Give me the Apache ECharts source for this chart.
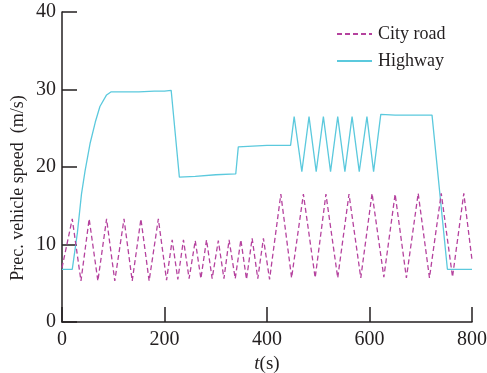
<!DOCTYPE html>
<html>
<head>
<meta charset="utf-8">
<script src="https://cdn.jsdelivr.net/npm/echarts@6/dist/echarts.min.js"></script>
<style>html,body{margin:0;padding:0;background:#fff;}#c{width:487px;height:373px;}</style>
</head>
<body>
<div id="c"></div>
<script>
// ---- data ----
const xTicks = [0, 200, 400, 600, 800];
const yTicks = [0, 10, 20, 30, 40];
const seriesNames = ['City road', 'Highway'];

const cityT = [0, 20, 37, 53, 70, 87, 103, 121, 137, 154, 170, 188, 204,
  215, 226, 237, 248, 260, 271, 282, 293, 305, 316, 326, 338, 349, 360, 371, 382, 393, 405,
  427, 448, 471, 494, 515, 538, 560, 583, 605, 628, 650, 672, 695, 717, 740, 762, 784, 800];
const cityV = [7.0, 13.3, 5.3, 13.3, 5.3, 13.3, 5.3, 13.3, 5.3, 13.3, 5.3, 13.3, 5.4,
  10.6, 5.5, 10.6, 5.6, 10.5, 5.6, 10.6, 5.6, 10.5, 5.6, 10.6, 5.6, 10.6, 5.5, 10.8, 5.6, 10.8, 5.5,
  16.5, 5.7, 16.5, 5.7, 16.5, 5.7, 16.5, 5.7, 16.6, 5.8, 16.5, 5.7, 16.6, 5.7, 16.6, 5.8, 16.6, 8.0];

const highT = [0, 20, 30, 38, 45, 55, 65, 74, 87, 96, 150, 180, 200, 213, 229, 260, 300, 339, 344, 400, 446,
  453, 468, 482, 496, 510, 524, 538, 552, 566, 580, 595, 608, 622, 650, 700, 722, 752, 800];
const highV = [6.8, 6.8, 11.5, 16.5, 19.5, 23.1, 25.8, 27.8, 29.3, 29.7, 29.7, 29.8, 29.8, 29.9, 18.7, 18.8, 19.0, 19.1, 22.6, 22.8, 22.8,
  26.5, 19.4, 26.5, 19.4, 26.5, 19.4, 26.5, 19.4, 26.5, 19.4, 26.5, 19.4, 26.8, 26.7, 26.7, 26.7, 6.8, 6.8];

const cityData = cityT.map((t, i) => [t, cityV[i]]);
const highData = highT.map((t, i) => [t, highV[i]]);

const FONT = 'Liberation Serif';
const INK = '#231f20';
const chart = echarts.init(document.getElementById('c'), null, {renderer: 'canvas'});
chart.setOption({
  animation: false,
  backgroundColor: '#fff',
  grid: {left: 62, right: 15, top: 12, bottom: 51, containLabel: false, outerBoundsMode: 'none'},
  legend: {
    orient: 'vertical', left: 331, top: 20,
    itemWidth: 35, itemHeight: 14, itemGap: 9,
    itemStyle: {opacity: 0},
    data: seriesNames,
    textStyle: {fontFamily: FONT, fontSize: 18, color: INK, lineHeight: 18, padding: [0, 0, 0, 1]}
  },
  xAxis: {
    type: 'value', min: xTicks[0], max: xTicks[xTicks.length - 1], interval: 200,
    name: '{i|t}(s)', nameLocation: 'middle', nameGap: 26,
    nameTextStyle: {fontFamily: FONT, fontSize: 19, color: INK,
      rich: {i: {fontFamily: FONT, fontSize: 19, fontStyle: 'italic', color: INK}}},
    axisLine: {show: true, lineStyle: {color: INK, width: 1.5}},
    axisTick: {show: true, inside: true, length: 15, lineStyle: {color: INK, width: 1.5}},
    axisLabel: {fontFamily: FONT, fontSize: 20, color: INK, margin: 8, showMinLabel: true, showMaxLabel: true},
    splitLine: {show: false}
  },
  yAxis: {
    type: 'value', min: yTicks[0], max: yTicks[yTicks.length - 1], interval: 10,
    axisLine: {show: true, lineStyle: {color: INK, width: 1.5}},
    axisTick: {show: true, inside: true, length: 15, lineStyle: {color: INK, width: 1.5}},
    axisLabel: {fontFamily: FONT, fontSize: 20, color: INK, margin: 6},
    splitLine: {show: false}
  },
  graphic: [{
    type: 'text', x: 18, y: 188, rotation: Math.PI / 2,
    style: {text: 'Prec. vehicle speed  (m/s)', fontFamily: FONT, fontSize: 18, fill: INK,
      textAlign: 'center', textVerticalAlign: 'middle'}
  }],
  series: [
    {name: seriesNames[0], type: 'line', data: cityData, symbol: 'none', z: 3,
     lineStyle: {color: '#b5429e', width: 1.3, type: [5, 3]}, itemStyle: {color: '#b5429e'}},
    {name: seriesNames[1], type: 'line', data: highData, symbol: 'none', z: 2,
     lineStyle: {color: '#5bc9dd', width: 1.3}, itemStyle: {color: '#5bc9dd'}}
  ]
});
</script>
</body>
</html>
